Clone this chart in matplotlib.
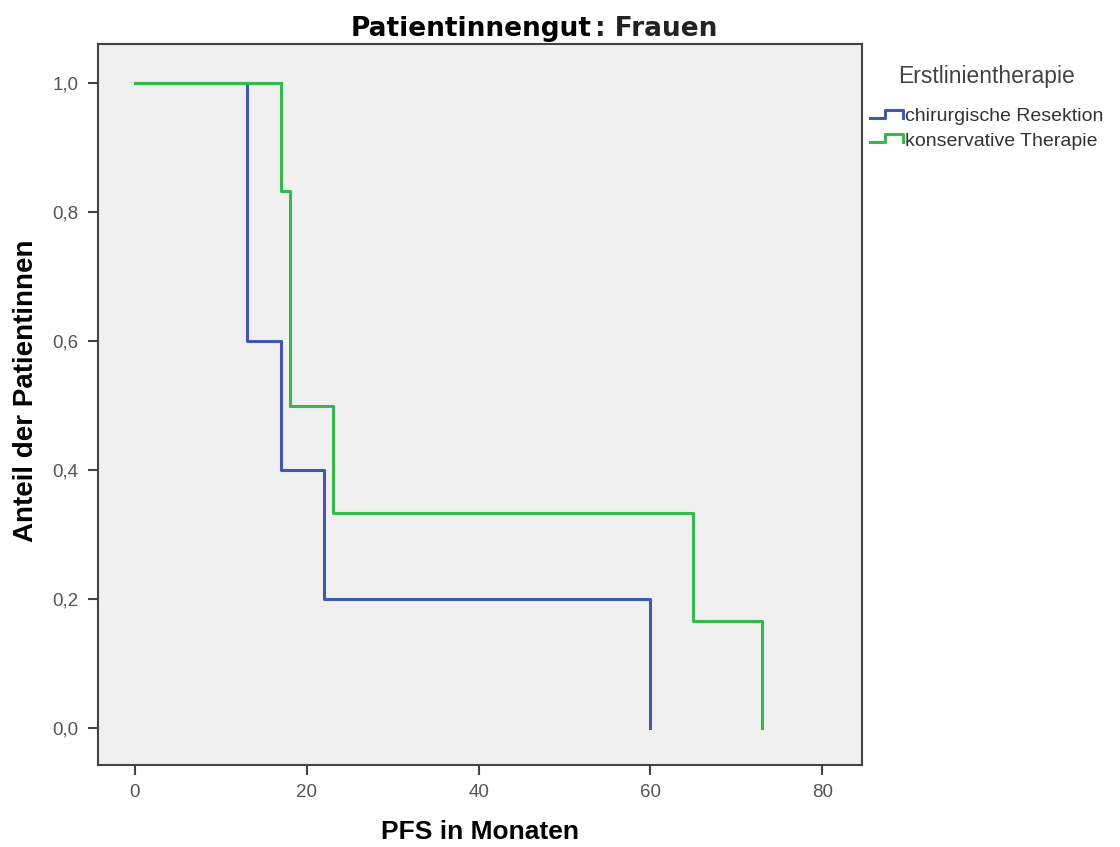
## Kaplan-Meier style step plot: PFS by first-line therapy (women)

import numpy as np
from matplotlib import pyplot as plt
from matplotlib.legend_handler import HandlerLine2D
from matplotlib.lines import Line2D

## step data
chir_t = [0, 13, 17, 22, 60]
chir_s = [1.0, 0.6, 0.4, 0.2, 0.0]
kons_t = [0, 17, 18, 23, 65, 73]
kons_s = [1.0, 0.8333, 0.5, 0.3333, 0.1667, 0.0]

xticks = [0, 20, 40, 60, 80]
yticks = [0.0, 0.2, 0.4, 0.6, 0.8, 1.0]

blue = "#4058b0"
green = "#35b94a"

plt.rcParams['font.family'] = ['Liberation Sans', 'DejaVu Sans']


## legend key drawn as a small step, like the SPSS output
class StepHandler(HandlerLine2D):
    def create_artists(self, legend, orig_handle, xdescent, ydescent,
                       width, height, fontsize, trans):
        x0, x1 = -xdescent, -xdescent + width
        yb = -ydescent + height * 0.25
        yt = -ydescent + height * 0.85
        xs = [x0, x0 + width * 0.45, x0 + width * 0.45, x1, x1]
        ys = [yb, yb, yt, yt, yb]
        ln = Line2D(xs, ys, color=orig_handle.get_color(), lw=orig_handle.get_linewidth())
        ln.set_transform(trans)
        return [ln]


fig = plt.figure(figsize=(11.2, 8.47), dpi=100)
ax = fig.add_axes([0.0875, 0.0968, 0.682, 0.851])
ax.set_facecolor("#f0f0f0")

ax.step(kons_t, kons_s, where="post", color=green, lw=2.2, label="konservative Therapie", zorder=2)
ax.step(chir_t, chir_s, where="post", color=blue, lw=2.2, label="chirurgische Resektion", zorder=3)
## green drawn over blue at the shared start
ax.plot(kons_t[:2], kons_s[:1] * 2, color=green, lw=2.2, zorder=4)

ax.set_xlim(-4.3, 84.6)
ax.set_ylim(-0.057, 1.06)
ax.set_xticks(xticks)
ax.set_yticks(yticks)
ax.set_xticklabels([str(t) for t in xticks])
ax.set_yticklabels([("%.1f" % v).replace(".", ",") for v in yticks])
ax.tick_params(direction="out", length=7, width=1.5, color="#444444",
               labelcolor="#555555", labelsize=13.5, pad=7)
for s in ax.spines.values():
    s.set_color("#444444")
    s.set_linewidth(1.5)

ax.set_xlabel("PFS in Monaten", fontsize=19, fontweight="bold")
ax.xaxis.set_label_coords(0.5, -0.076)
ax.set_ylabel("Anteil der Patientinnen", fontsize=20, fontweight="bold")
ax.yaxis.set_label_coords(-0.077, 0.519)

## title: bold first part, lighter second part
fig.text(0.528, 0.966, "Patientinnengut", fontsize=19, fontweight="bold",
         ha="right", va="center", family="DejaVu Sans")
fig.text(0.531, 0.966, ": Frauen", fontsize=19, fontweight="bold",
         ha="left", va="center", color="#222222", family="DejaVu Sans")

h, l = ax.get_legend_handles_labels()
leg = fig.legend(h[::-1], l[::-1], title="Erstlinientherapie", loc="upper left",
                 bbox_to_anchor=(0.770, 0.932), frameon=False, fontsize=14,
                 title_fontsize=16.5, handlelength=1.7, handletextpad=0.1,
                 labelspacing=0.35, borderaxespad=0,
                 handler_map={Line2D: StepHandler()})
leg._legend_box.sep = 14
for t in leg.get_texts():
    t.set_color("#333333")
leg.get_title().set_color("#444444")

fig.savefig("out.png", dpi=100)
